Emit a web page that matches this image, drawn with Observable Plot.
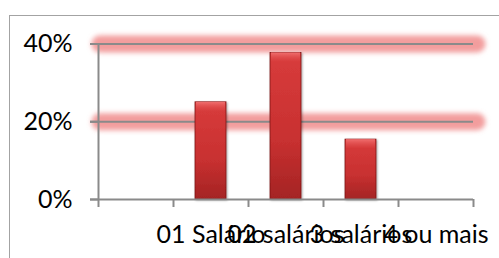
<!DOCTYPE html>
<html>
<head>
<meta charset="utf-8">
<script src="https://cdn.jsdelivr.net/npm/d3@7"></script>
<script src="https://cdn.jsdelivr.net/npm/@observablehq/plot@0.6"></script>
<style>
  html, body { margin: 0; padding: 0; background: #fff; width: 499px; height: 258px; overflow: hidden; }
  #border { position: absolute; left: 9px; top: 15px; width: 600px; height: 400px; border-left: 1.5px solid #a3a3a3; border-top: 1.5px solid #a3a3a3; }
  #chart { position: absolute; left: 0; top: 0; }
</style>
</head>
<body>
<div id="border"></div>
<div id="chart"></div>
<script>
const categories = [" ", "01 Salário", "02 salários", "3 salários", "4 ou mais"];
const values = [null, 0.25, 0.377, 0.154, 0];
const yTicks = [0, 0.2, 0.4];
const gridValues = [0.2, 0.4];

const W = 499, H = 258;
const mL = 98, mR = 26, mT = 43.5, mB = 59;
const step = (W - mL - mR) / categories.length;
const data = categories.map((c, i) => ({cat: c, v: values[i]}));
const barData = data.filter(d => d.v != null && d.v > 0);
const font = "Lato, 'Open Sans', sans-serif";
const pin = 0.585;

const chart = Plot.plot({
  width: W, height: H,
  marginLeft: mL, marginRight: mR, marginTop: mT, marginBottom: mB,
  style: {background: "transparent", fontFamily: font, fontSize: "25px", color: "#000"},
  x: {domain: categories, paddingInner: pin, paddingOuter: pin / 2, label: null},
  y: {domain: [0, 0.4], label: null},
  marks: [
    // glow behind gridlines
    Plot.ruleY(gridValues, {stroke: "#f08c8c", strokeWidth: 17, strokeOpacity: 0.85, strokeLinecap: "round", insetLeft: 2, insetRight: -4}),
    // gridlines
    Plot.ruleY(gridValues, {stroke: "#8a8a8a", strokeWidth: 2, insetLeft: -8}),
    // y axis line
    Plot.ruleX([categories[0]], {y1: 0, y2: 0.4, dx: -step / 2, stroke: "#8a8a8a", strokeWidth: 2}),
    // bars
    Plot.barY(barData, {x: "cat", y: "v", fill: "url(#barGrad)", stroke: "#7d1515", strokeWidth: 0.8}),
    // bevel highlight at top of bars
    Plot.barY(barData, {x: "cat", y1: "v", y2: "v", insetBottom: -9, insetLeft: 1, insetRight: 1, fill: "url(#bevelGrad)"}),
    // x axis line
    Plot.ruleY([0], {stroke: "#8a8a8a", strokeWidth: 2, insetLeft: -8}),
    // x category boundary ticks
    Plot.ruleX(categories, {x: d => d, y1: 0, y2: 0, insetBottom: -8, dx: step / 2, stroke: "#8a8a8a", strokeWidth: 2}),
    Plot.ruleX([categories[0]], {y1: 0, y2: 0, insetBottom: -8, dx: -step / 2, stroke: "#8a8a8a", strokeWidth: 2}),
    Plot.axisY({ticks: yTicks, tickFormat: d => Math.round(d * 100) + "%", tickSize: 8, tickPadding: 18, stroke: "#8a8a8a", strokeWidth: 2, fontSize: 25, label: null}),
    Plot.axisX({tickSize: 0, tickPadding: 26, fontSize: 25, label: null})
  ]
});

const svg = d3.select(chart.tagName.toLowerCase() === "svg" ? chart : chart.querySelector("svg"));
const defs = svg.insert("defs", ":first-child");
const g = defs.append("linearGradient").attr("id", "barGrad").attr("x1", 0).attr("y1", 0).attr("x2", 0).attr("y2", 1);
g.append("stop").attr("offset", "0%").attr("stop-color", "#d83c3c");
g.append("stop").attr("offset", "60%").attr("stop-color", "#c83030");
g.append("stop").attr("offset", "100%").attr("stop-color", "#a42424");
const bg = defs.append("linearGradient").attr("id", "bevelGrad").attr("x1", 0).attr("y1", 0).attr("x2", 0).attr("y2", 1);
bg.append("stop").attr("offset", "0%").attr("stop-color", "#f27272").attr("stop-opacity", 0.95);
bg.append("stop").attr("offset", "100%").attr("stop-color", "#e04a4a").attr("stop-opacity", 0.15);
const blur = defs.append("filter").attr("id", "blur").attr("filterUnits", "userSpaceOnUse")
  .attr("x", 0).attr("y", 0).attr("width", W).attr("height", H);
blur.append("feGaussianBlur").attr("stdDeviation", 2.8);
svg.selectAll("g").filter(function() { return this.getAttribute("stroke-width") === "17"; }).attr("filter", "url(#blur)");
const shadow = defs.append("filter").attr("id", "shadow").attr("filterUnits", "userSpaceOnUse")
  .attr("x", 0).attr("y", 0).attr("width", W).attr("height", H);
shadow.append("feDropShadow").attr("dx", 1).attr("dy", 1).attr("stdDeviation", 1.2).attr("flood-color", "#000").attr("flood-opacity", 0.35);
svg.selectAll("g").filter(function() { return this.getAttribute("fill") === "url(#barGrad)"; }).attr("filter", "url(#shadow)");

document.getElementById("chart").append(chart);
</script>
</body>
</html>
